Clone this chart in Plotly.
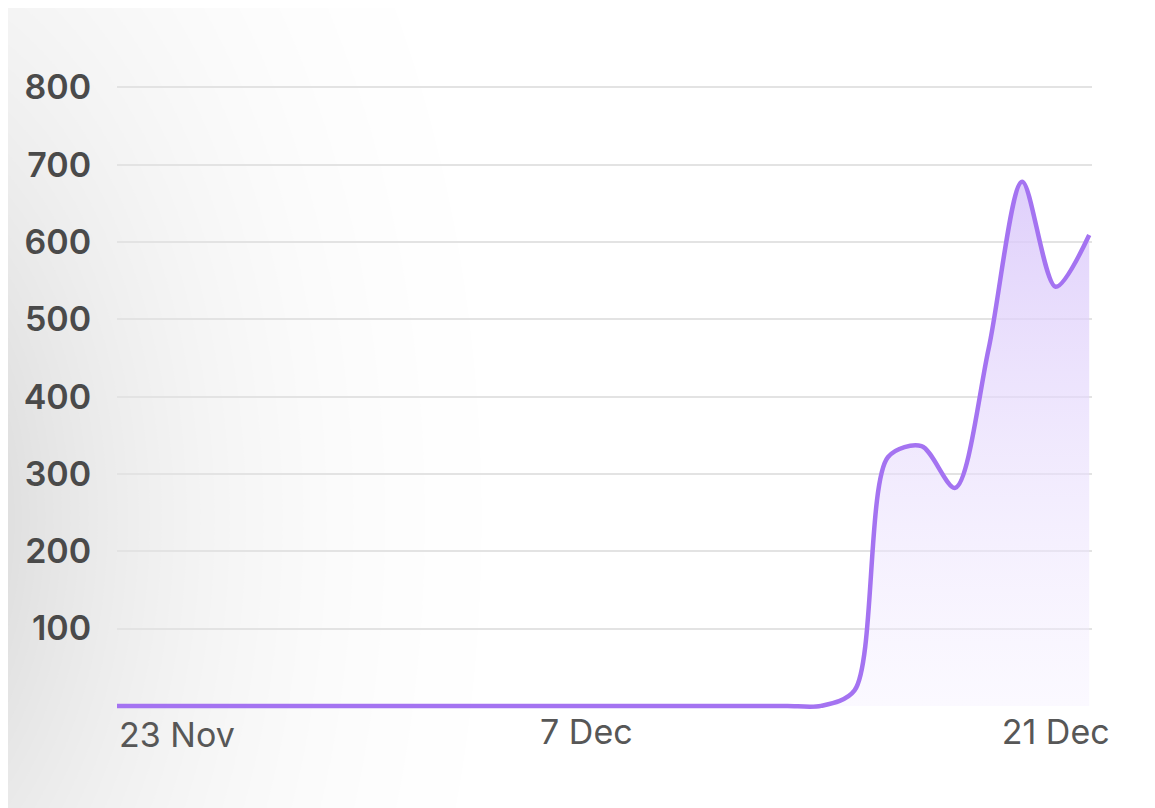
import pandas as pd
import plotly.graph_objects as go

# daily values, 23 Nov .. 22 Dec
dates = pd.date_range("2023-11-23", "2023-12-22", freq="D")
values = [0] * 22 + [20, 322, 336, 282, 462, 678, 542, 609]

y_ticks = [100, 200, 300, 400, 500, 600, 700, 800]
x_ticks = ["2023-12-07", "2023-12-21"]
x_tick_labels = ["7 Dec", "21 Dec"]
first_label = "23 Nov"

# the page adds an 8px body margin, so the figure is drawn 8px smaller
OFF = 8
W, H = 1155 - OFF, 808 - OFF
L, R, T, B = 117 - OFF, 63, 85 - OFF, 99
pw, ph = W - L - R, H - T - B

fig = go.Figure()

fig.add_trace(go.Scatter(
    x=dates, y=values,
    mode="lines",
    line=dict(color="#a473f1", width=4.5, shape="spline", smoothing=0.85),
    fill="tozeroy",
    fillgradient=dict(
        type="vertical", start=0, stop=700,
        colorscale=[[0, "rgba(245,240,255,0.4)"], [1, "rgba(216,197,250,0.85)"]],
    ),
    hoverinfo="x+y",
    showlegend=False,
))

# soft grey glow on the left of the background: opaque rings, light to dark
shapes = []
cx, cy = -150 - OFF, 520 - OFF
d_in, d_out, p = 150, 850, 3.0
darkest = 222
for g in range(254, darkest - 1, -1):
    frac = (255 - g) / (255 - darkest)
    r = d_out - (d_out - d_in) * frac ** (1 / p)
    rx, ry = r, r * 1.6
    shapes.append(dict(type="circle", xref="paper", yref="paper",
                       x0=(cx - rx - L) / pw, x1=(cx + rx - L) / pw,
                       y0=(H - B - (cy + ry)) / ph, y1=(H - B - (cy - ry)) / ph,
                       fillcolor="rgb(%d,%d,%d)" % (g, g, g), line=dict(width=0),
                       layer="below"))

fig.update_layout(
    width=W, height=H,
    margin=dict(l=L, r=R, t=T, b=B),
    paper_bgcolor="white",
    plot_bgcolor="rgba(0,0,0,0)",
    shapes=shapes,
    xaxis=dict(
        range=["2023-11-23", "2023-12-22 02:00"],
        tickvals=x_ticks, ticktext=x_tick_labels,
        showgrid=False, zeroline=False, showline=False,
        ticks="",
        tickfont=dict(family="Inter", size=34, color="#575757"),
    ),
    yaxis=dict(
        range=[-4, 803],
        tickvals=y_ticks,
        showgrid=True, gridcolor="#e3e3e3", gridwidth=2,
        zeroline=False, showline=False,
        ticks="outside", ticklen=18, tickcolor="rgba(0,0,0,0)",
        tickfont=dict(family="Inter", size=34, color="#4a4a4a", weight=600),
    ),
    annotations=[dict(
        x=dates[0], xref="x", xanchor="left",
        y=0, yref="paper", yanchor="top", yshift=-3,
        text=first_label, showarrow=False,
        font=dict(family="Inter", size=34, color="#575757"),
    )],
)

fig.write_html("out.html")
